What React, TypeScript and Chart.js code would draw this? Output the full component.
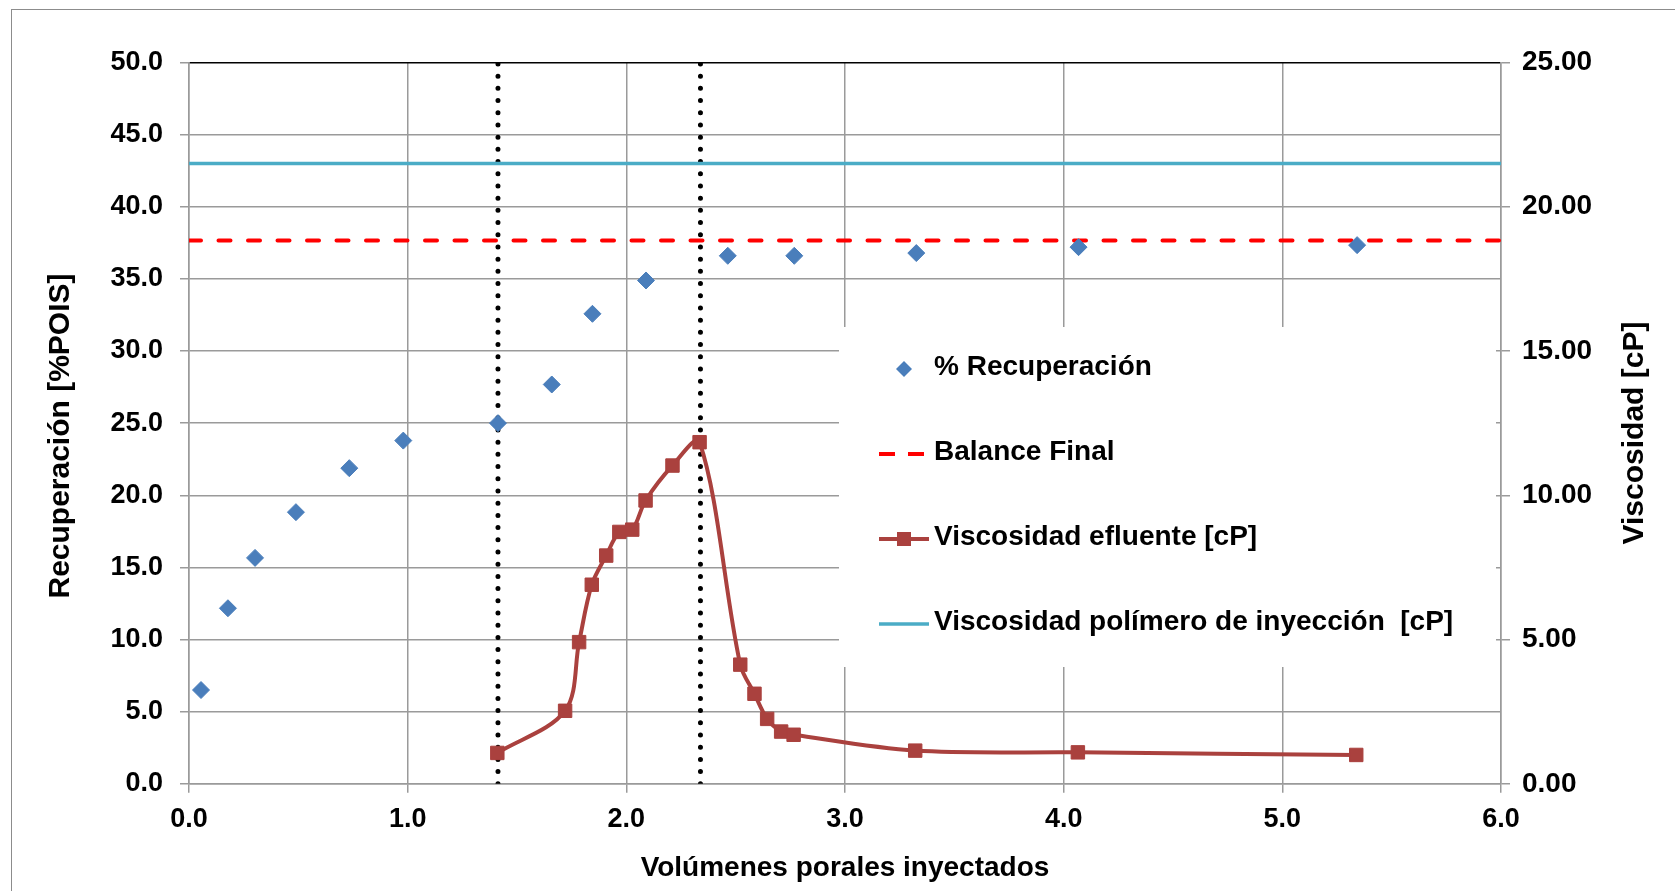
import React, { useEffect, useRef } from 'react';
import { Chart, registerables } from 'chart.js';

Chart.register(...registerables);

// ---------- data ----------
const recupX = [0.055, 0.178, 0.302, 0.489, 0.733, 0.98, 1.413, 1.659, 1.845, 2.09, 2.464, 2.768, 3.326, 4.068, 5.342];
const recupY = [6.5, 12.17, 15.66, 18.83, 21.88, 23.79, 25.0, 27.68, 32.58, 34.89, 36.6, 36.6, 36.79, 37.2, 37.34];

const viscX = [1.41, 1.72, 1.784, 1.842, 1.908, 1.968, 2.027, 2.088, 2.211, 2.335, 2.521, 2.586, 2.644, 2.708, 2.765, 3.321, 4.065, 5.338];
const viscY = [1.07, 2.53, 4.91, 6.9, 7.91, 8.73, 8.81, 9.82, 11.03, 11.84, 4.13, 3.12, 2.25, 1.81, 1.7, 1.15, 1.09, 1.0];

const balanceFinal = 37.66;
const polymerViscosity = 21.5;
const markerLinesX = [1.413, 2.339];

const xRange = [0, 6];
const yLeftRange = [0, 50];
const yRightRange = [0, 25];

const xTitle = 'Volúmenes porales inyectados';
const yLeftTitle = 'Recuperación [%POIS]';
const yRightTitle = 'Viscosidad [cP]';
const legendLabels = [
  '% Recuperación',
  'Balance Final',
  'Viscosidad efluente [cP]',
  'Viscosidad polímero de inyección  [cP]',
];

// ---------- styles ----------
const FONT = "'Liberation Sans', Arial, Helvetica, sans-serif";
const BLUE = '#4A7EBB';
const RED = '#FF0000';
const MAROON = '#AA413E';
const TEAL = '#4BACC6';
const GRID = '#9A9A9A';

const LAYOUT = {
  plotTop: 62.5,
  leftWidth: 189,
  rightWidth: 174,
  bottomHeight: 107.2,
  legendBox: { x: 839, y: 327, w: 657, h: 340 },
  legendSymX0: 879,
  legendSymX1: 929,
  legendSymC: 904,
  legendTextX: 934,
  legendRows: [367, 452, 537, 622],
  leftTitle: { x: 61, y: 436 },
  rightTitle: { x: 1635, y: 433 },
};

const customDraw = {
  id: 'customDraw',
  beforeDatasetsDraw(chart: any) {
    const ctx = chart.ctx as CanvasRenderingContext2D;
    const L = LAYOUT;
    ctx.save();
    ctx.fillStyle = '#ffffff';
    ctx.fillRect(L.legendBox.x, L.legendBox.y, L.legendBox.w, L.legendBox.h);

    const rows = L.legendRows;
    const dy = 2;
    // diamond
    ctx.fillStyle = BLUE;
    ctx.beginPath();
    const r = 8;
    ctx.moveTo(L.legendSymC - r, rows[0] + dy);
    ctx.lineTo(L.legendSymC, rows[0] + dy - r);
    ctx.lineTo(L.legendSymC + r, rows[0] + dy);
    ctx.lineTo(L.legendSymC, rows[0] + dy + r);
    ctx.closePath();
    ctx.fill();

    // red dashed
    ctx.strokeStyle = RED;
    ctx.lineWidth = 4;
    ctx.setLineDash([16, 13]);
    ctx.beginPath();
    ctx.moveTo(L.legendSymX0, rows[1] + dy);
    ctx.lineTo(L.legendSymX1 - 4, rows[1] + dy);
    ctx.stroke();
    ctx.setLineDash([]);

    // maroon line + square
    ctx.strokeStyle = MAROON;
    ctx.lineWidth = 4;
    ctx.beginPath();
    ctx.moveTo(L.legendSymX0, rows[2] + dy);
    ctx.lineTo(L.legendSymX1, rows[2] + dy);
    ctx.stroke();
    ctx.fillStyle = MAROON;
    ctx.fillRect(L.legendSymC - 7, rows[2] + dy - 7, 14, 14);

    // teal line
    ctx.strokeStyle = TEAL;
    ctx.lineWidth = 3.5;
    ctx.beginPath();
    ctx.moveTo(L.legendSymX0, rows[3] + dy);
    ctx.lineTo(L.legendSymX1, rows[3] + dy);
    ctx.stroke();

    ctx.fillStyle = '#000';
    ctx.font = `bold 28px ${FONT}`;
    ctx.textAlign = 'left';
    ctx.textBaseline = 'middle';
    legendLabels.forEach((t, i) => ctx.fillText(t, L.legendTextX, rows[i]));
    ctx.restore();
  },
  afterDraw(chart: any) {
    const ctx = chart.ctx as CanvasRenderingContext2D;
    const L = LAYOUT;
    const drawVertical = (text: string, x: number, y: number) => {
      ctx.save();
      ctx.fillStyle = '#000';
      ctx.font = `bold 30px ${FONT}`;
      ctx.textAlign = 'center';
      ctx.textBaseline = 'middle';
      ctx.translate(x, y);
      ctx.rotate(-Math.PI / 2);
      ctx.fillText(text, 0, 0);
      ctx.restore();
    };
    drawVertical(yLeftTitle, L.leftTitle.x, L.leftTitle.y);
    drawVertical(yRightTitle, L.rightTitle.x, L.rightTitle.y);
  },
};

export default function App() {
  const ref = useRef<HTMLCanvasElement>(null);

  useEffect(() => {
    const canvas = ref.current;
    if (!canvas) return;

    const datasets: any[] = [
      {
        label: legendLabels[0],
        data: recupX.map((x, i) => ({ x, y: recupY[i] })),
        yAxisID: 'y',
        showLine: false,
        pointStyle: 'rectRot',
        pointRadius: 8.5,
        pointBackgroundColor: BLUE,
        pointBorderColor: BLUE,
        pointBorderWidth: 1,
        order: 0,
      },
      {
        label: legendLabels[2],
        data: viscX.map((x, i) => ({ x, y: viscY[i] })),
        yAxisID: 'y2',
        showLine: true,
        tension: 0.33,
        borderColor: MAROON,
        borderWidth: 4,
        pointStyle: 'rect',
        pointRadius: 9.5,
        pointBackgroundColor: MAROON,
        pointBorderColor: MAROON,
        pointBorderWidth: 1,
        order: 1,
      },
      {
        label: legendLabels[3],
        data: xRange.map((x) => ({ x, y: polymerViscosity })),
        yAxisID: 'y2',
        showLine: true,
        borderColor: TEAL,
        borderWidth: 3.5,
        pointRadius: 0,
        order: 2,
      },
      {
        label: legendLabels[1],
        data: xRange.map((x) => ({ x, y: balanceFinal })),
        yAxisID: 'y',
        showLine: true,
        borderColor: RED,
        borderWidth: 4,
        borderDash: [12, 17.5],
        borderCapStyle: 'round',
        pointRadius: 0,
        order: 3,
      },
      ...markerLinesX.map((mx, k) => ({
        label: 'marker' + k,
        data: yLeftRange.map((y) => ({ x: mx, y })),
        yAxisID: 'y',
        showLine: true,
        borderColor: '#000',
        borderWidth: 5,
        borderDash: [0.001, 12.2],
        borderCapStyle: 'round',
        pointRadius: 0,
        order: 4 + k,
      })),
    ];

    const tickFont = { family: FONT, size: 27, weight: 'bold' as const };

    const chart = new Chart(canvas, {
      type: 'scatter',
      data: { datasets },
      options: {
        animation: false,
        responsive: false,
        maintainAspectRatio: false,
        layout: { padding: { top: LAYOUT.plotTop, left: 0, right: 0, bottom: 0 } },
        plugins: {
          legend: { display: false },
          tooltip: { enabled: false },
        },
        scales: {
          x: {
            type: 'linear',
            position: 'bottom',
            min: xRange[0],
            max: xRange[1],
            ticks: {
              stepSize: 1,
              callback: (v: any) => Number(v).toFixed(1),
              font: tickFont,
              color: '#000',
              padding: 11,
              maxRotation: 0,
            },
            grid: { color: GRID, lineWidth: 1.5, tickLength: 9, tickColor: GRID },
            border: { color: GRID, width: 1.5 },
            title: {
              display: true,
              text: xTitle,
              color: '#000',
              font: { family: FONT, size: 28, weight: 'bold' },
              padding: { top: 0, bottom: 6 },
            },
            afterFit: (s: any) => {
              s.height = LAYOUT.bottomHeight;
            },
          },
          y: {
            type: 'linear',
            position: 'left',
            min: yLeftRange[0],
            max: yLeftRange[1],
            ticks: {
              stepSize: 5,
              callback: (v: any) => Number(v).toFixed(1),
              font: tickFont,
              color: '#000',
              padding: 17,
            },
            grid: {
              color: (c: any) => (c.tick && c.tick.value === yLeftRange[1] ? '#000' : GRID),
              lineWidth: 1.5,
              tickLength: 9,
              tickColor: GRID,
            },
            border: { color: GRID, width: 1.5 },
            afterFit: (s: any) => {
              s.width = LAYOUT.leftWidth;
            },
          },
          y2: {
            type: 'linear',
            position: 'right',
            min: yRightRange[0],
            max: yRightRange[1],
            ticks: {
              stepSize: 5,
              callback: (v: any) => Number(v).toFixed(2),
              font: { family: FONT, size: 28, weight: 'bold' },
              color: '#000',
              padding: 12,
            },
            grid: { drawOnChartArea: false, color: GRID, lineWidth: 1.5, tickLength: 9, tickColor: GRID },
            border: { color: GRID, width: 1.5 },
            afterFit: (s: any) => {
              s.width = LAYOUT.rightWidth;
            },
          },
        },
      },
      plugins: [customDraw],
    } as any);

    return () => chart.destroy();
  }, []);

  return (
    <div
      style={{
        position: 'fixed',
        left: 0,
        top: 0,
        width: 1675,
        height: 891,
        background: '#fff',
        overflow: 'hidden',
      }}
    >
      <div
        style={{
          position: 'absolute',
          left: 11,
          top: 9,
          width: 1700,
          height: 900,
          borderLeft: '1.5px solid #8c8c8c',
          borderTop: '1.5px solid #8c8c8c',
        }}
      />
      <canvas
        ref={ref}
        width={1675}
        height={891}
        style={{ position: 'absolute', left: 0, top: 0, width: 1675, height: 891 }}
      />
    </div>
  );
}
